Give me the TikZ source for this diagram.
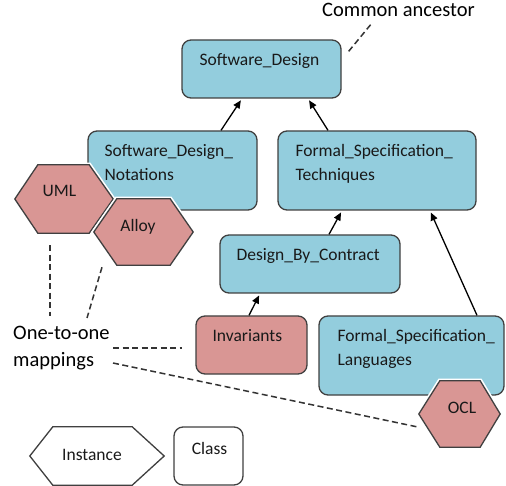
\documentclass[tikz,border=0pt]{standalone}
\usepackage{fontspec}
\setmainfont{Carlito}
\usetikzlibrary{calc,arrows.meta}
\definecolor{bluefill}{HTML}{93CDDD}
\definecolor{pinkfill}{HTML}{D99694}
\definecolor{edgecol}{HTML}{404040}
\newcommand{\twoline}[2]{\parbox[t]{230pt}{#1\\#2}}
\newcommand{\hexpath}[4]{%
  \draw[hexline, fill=#4] (#1.west) -- ([xshift=#2]#1.north west) -- ([xshift=-#3]#1.north east) -- (#1.east) -- ([xshift=-#3]#1.south east) -- ([xshift=#2]#1.south west) -- cycle;}
\tikzset{
  clsbox/.style={draw=edgecol, line width=1.3pt, rounded corners=9pt, inner sep=0pt},
  bluebox/.style={clsbox, fill=bluefill},
  pinkbox/.style={clsbox, fill=pinkfill},
  hexbb/.style={draw=none, inner sep=0pt},
  hexline/.style={draw=edgecol, line width=1.3pt, line join=miter, preaction={draw=white, line width=4.5pt}},
  boxtxt/.style={anchor=base west, inner sep=0pt, text=black!90, font=\fontsize{17.5}{24}\selectfont},
  ctrtxt/.style={anchor=base, inner sep=0pt, text=black!90, font=\fontsize{17.5}{24}\selectfont},
  bigtxt/.style={anchor=base west, inner sep=0pt, text=black, font=\fontsize{20.5}{27}\selectfont},
  arr/.style={-{Triangle[length=8pt,width=7pt]}, line width=1.3pt, black, shorten >=2pt},
  dsh/.style={dash pattern=on 6pt off 3.5pt, line width=1.5pt, black!80}
}
\begin{document}
\begin{tikzpicture}[x=1pt,y=-1pt]
\useasboundingbox (0,0) rectangle (506,486);

% classes
\node[bluebox, minimum width=159pt, minimum height=58pt] (sd) at (261.5,69) {};
\node[boxtxt] (sdt) at ([xshift=18pt,yshift=-26pt]sd.north west) {Software\_Design};

\node[bluebox, minimum width=169pt, minimum height=79pt] (sdn) at (172.5,170.5) {};
\node[boxtxt] (sdnt) at ([xshift=17pt,yshift=-26pt]sdn.north west) {\twoline{Software\_Design\_}{Notations}};

\node[bluebox, minimum width=198pt, minimum height=79pt] (fst) at (377,170.5) {};
\node[boxtxt] (fstt) at ([xshift=18pt,yshift=-26pt]fst.north west) {\twoline{Formal\_Specification\_}{Techniques}};

\node[bluebox, minimum width=180pt, minimum height=58pt] (dbc) at (310,264) {};
\node[boxtxt] (dbct) at ([xshift=17pt,yshift=-26pt]dbc.north west) {Design\_By\_Contract};

\node[pinkbox, minimum width=111pt, minimum height=58pt] (inv) at (251.5,345) {};
\node[boxtxt] (invt) at ([xshift=17pt,yshift=-26pt]inv.north west) {Invariants};

\node[bluebox, minimum width=185pt, minimum height=79pt] (fsl) at (411.5,355.5) {};
\node[boxtxt] (fslt) at ([xshift=19pt,yshift=-26pt]fsl.north west) {\twoline{Formal\_Specification\_}{Languages}};

% instances
\node[hexbb, minimum width=98pt, minimum height=68pt] (uml) at (64,199) {};
\hexpath{uml}{23pt}{24pt}{pinkfill}
\node[ctrtxt] (umlt) at ([xshift=-4.5pt,yshift=2pt]uml.center) {UML};

\node[hexbb, minimum width=99pt, minimum height=66pt] (alloy) at (143.5,232) {};
\hexpath{alloy}{23pt}{23pt}{pinkfill}
\node[ctrtxt] (alloyt) at ([xshift=-5.5pt,yshift=0pt]alloy.center) {Alloy};

\node[hexbb, minimum width=81pt, minimum height=66pt] (ocl) at (459.5,414) {};
\hexpath{ocl}{21pt}{20pt}{pinkfill}
\node[ctrtxt] (oclt) at ([xshift=2.5pt,yshift=1pt]ocl.center) {OCL};

% legend
\node[hexbb, minimum width=134pt, minimum height=58pt] (inst) at (97,456) {};
\hexpath{inst}{23pt}{32pt}{white}
\node[ctrtxt] (instt) at ([xshift=-5pt,yshift=-4pt]inst.center) {Instance};

\node[clsbox, fill=white, minimum width=69pt, minimum height=58pt] (cls) at (208.5,456) {};
\node[ctrtxt] (clst) at ([xshift=1pt,yshift=-28pt]cls.north) {Class};

% annotations
\node[bigtxt] (ca) at (322,17) {Common ancestor};
\node[bigtxt] (map) at (13,340) {\twoline{One-to-one}{mappings}};

% inheritance arrows
\draw[arr] ([xshift=48.5pt]sdn.north) -- ([xshift=-19.5pt]sd.south);
\draw[arr] ([xshift=-49pt]fst.north) -- ([xshift=46.5pt]sd.south);
\draw[arr] ([xshift=19pt]dbc.north) -- ([xshift=-35pt]fst.south);
\draw[arr] ([xshift=65.5pt]fsl.north) -- ([xshift=53pt]fst.south);
\draw[arr] ([xshift=-2.5pt]inv.north) -- ([xshift=-50pt]dbc.south);

% dashed annotation lines
\draw[dsh] ([xshift=7pt,yshift=-12pt]sd.north east) -- ([xshift=50pt,yshift=-6pt]ca.base west);
\draw[dsh] ([xshift=-14pt,yshift=-12pt]uml.south) -- ([xshift=37pt,yshift=24pt]map.base west);
\draw[dsh] ([xshift=-41.5pt,yshift=-2pt]alloy.south) -- ([xshift=74pt,yshift=22pt]map.base west);
\draw[dsh] ([xshift=100pt,yshift=-8pt]map.base west) -- ([xshift=-13pt,yshift=-3pt]inv.west);
\draw[dsh] ([xshift=100pt,yshift=-23pt]map.base west) -- ([xshift=-1pt,yshift=-13pt]ocl.west);
\end{tikzpicture}
\end{document}
